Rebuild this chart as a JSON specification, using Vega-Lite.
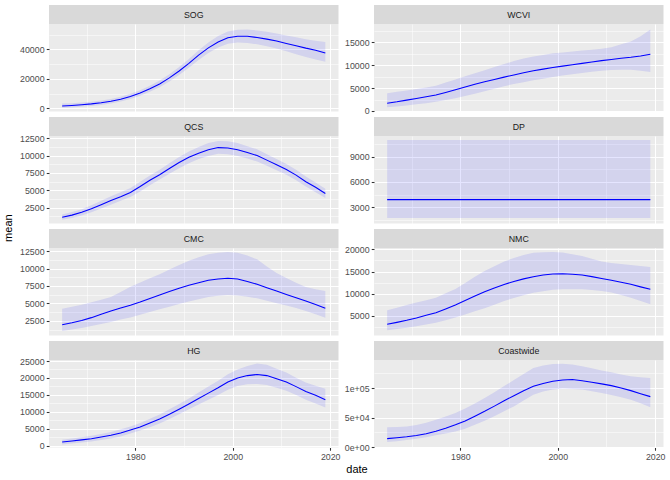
{
  "$schema": "https://vega.github.io/schema/vega-lite/v6.json",
  "background": "white",
  "padding": {"left": 3, "top": 5, "right": 5, "bottom": 3},
  "config": {
    "view": {"stroke": null},
    "font": "Liberation Sans",
    "axis": {"grid": true, "gridColor": "white", "domain": false, "labelColor": "#4D4D4D", "labelFontSize": 8.8, "labelFont": "Liberation Sans", "tickColor": "#333333", "tickSize": 2.75, "tickWidth": 1.07, "labelPadding": 2.2, "labelOverlap": false, "labelFlush": false, "tickCount": 50},
    "axisY": {"minExtent": 30, "maxExtent": 30, "tickCount": 50},
    "axisX": {"tickCount": 50},
    "title": {"font": "Liberation Sans", "fontSize": 11, "fontWeight": "normal", "color": "black"}
  },
  "datasets": {
    "strips": [{"panel": "SOG"}, {"panel": "WCVI"}, {"panel": "QCS"}, {"panel": "DP"}, {"panel": "CMC"}, {"panel": "NMC"}, {"panel": "HG"}, {"panel": "Coastwide"}],
    "series": [
      {"panel":"SOG","date":1965,"mean":1500,"lo":300,"hi":3200},
      {"panel":"SOG","date":1967,"mean":1900,"lo":600,"hi":3500},
      {"panel":"SOG","date":1969,"mean":2400,"lo":1000,"hi":3900},
      {"panel":"SOG","date":1971,"mean":3000,"lo":1600,"hi":4500},
      {"panel":"SOG","date":1973,"mean":3800,"lo":2300,"hi":5300},
      {"panel":"SOG","date":1975,"mean":4800,"lo":3300,"hi":6300},
      {"panel":"SOG","date":1977,"mean":6200,"lo":4600,"hi":7800},
      {"panel":"SOG","date":1979,"mean":8000,"lo":6300,"hi":9800},
      {"panel":"SOG","date":1981,"mean":10400,"lo":8500,"hi":12300},
      {"panel":"SOG","date":1983,"mean":13200,"lo":11200,"hi":15300},
      {"panel":"SOG","date":1985,"mean":16500,"lo":14300,"hi":18800},
      {"panel":"SOG","date":1987,"mean":20600,"lo":18200,"hi":23100},
      {"panel":"SOG","date":1989,"mean":25300,"lo":22600,"hi":28000},
      {"panel":"SOG","date":1991,"mean":30500,"lo":27500,"hi":33500},
      {"panel":"SOG","date":1993,"mean":36000,"lo":32800,"hi":39300},
      {"panel":"SOG","date":1995,"mean":41000,"lo":37500,"hi":44600},
      {"panel":"SOG","date":1997,"mean":45000,"lo":41200,"hi":49000},
      {"panel":"SOG","date":1999,"mean":47800,"lo":43700,"hi":52000},
      {"panel":"SOG","date":2001,"mean":48900,"lo":44600,"hi":53300},
      {"panel":"SOG","date":2003,"mean":48800,"lo":44300,"hi":53400},
      {"panel":"SOG","date":2005,"mean":48000,"lo":43400,"hi":52800},
      {"panel":"SOG","date":2007,"mean":46900,"lo":42000,"hi":51900},
      {"panel":"SOG","date":2009,"mean":45600,"lo":40500,"hi":50700},
      {"panel":"SOG","date":2011,"mean":44000,"lo":38600,"hi":49400},
      {"panel":"SOG","date":2013,"mean":42400,"lo":36700,"hi":48100},
      {"panel":"SOG","date":2015,"mean":40800,"lo":34800,"hi":46800},
      {"panel":"SOG","date":2017,"mean":39400,"lo":33000,"hi":45800},
      {"panel":"SOG","date":2019,"mean":37500,"lo":31500,"hi":45000},

      {"panel":"WCVI","date":1965,"mean":1680,"lo":800,"hi":3860},
      {"panel":"WCVI","date":1967,"mean":2000,"lo":1000,"hi":4200},
      {"panel":"WCVI","date":1969,"mean":2370,"lo":1200,"hi":4500},
      {"panel":"WCVI","date":1971,"mean":2750,"lo":1450,"hi":4800},
      {"panel":"WCVI","date":1973,"mean":3130,"lo":1700,"hi":5150},
      {"panel":"WCVI","date":1975,"mean":3500,"lo":2000,"hi":5500},
      {"panel":"WCVI","date":1977,"mean":4050,"lo":2400,"hi":6200},
      {"panel":"WCVI","date":1979,"mean":4650,"lo":2800,"hi":6900},
      {"panel":"WCVI","date":1981,"mean":5250,"lo":3250,"hi":7600},
      {"panel":"WCVI","date":1983,"mean":5850,"lo":3750,"hi":8250},
      {"panel":"WCVI","date":1985,"mean":6400,"lo":4300,"hi":8900},
      {"panel":"WCVI","date":1987,"mean":6900,"lo":4850,"hi":9600},
      {"panel":"WCVI","date":1989,"mean":7400,"lo":5400,"hi":10250},
      {"panel":"WCVI","date":1991,"mean":7870,"lo":5900,"hi":10900},
      {"panel":"WCVI","date":1993,"mean":8350,"lo":6300,"hi":11450},
      {"panel":"WCVI","date":1995,"mean":8800,"lo":6700,"hi":11900},
      {"panel":"WCVI","date":1997,"mean":9150,"lo":7050,"hi":12250},
      {"panel":"WCVI","date":1999,"mean":9500,"lo":7450,"hi":12600},
      {"panel":"WCVI","date":2001,"mean":9800,"lo":7750,"hi":12800},
      {"panel":"WCVI","date":2003,"mean":10100,"lo":8050,"hi":13000},
      {"panel":"WCVI","date":2005,"mean":10400,"lo":8300,"hi":13200},
      {"panel":"WCVI","date":2007,"mean":10700,"lo":8550,"hi":13400},
      {"panel":"WCVI","date":2009,"mean":11000,"lo":8800,"hi":13600},
      {"panel":"WCVI","date":2011,"mean":11250,"lo":8950,"hi":13900},
      {"panel":"WCVI","date":2013,"mean":11500,"lo":9000,"hi":14600},
      {"panel":"WCVI","date":2015,"mean":11720,"lo":9000,"hi":15200},
      {"panel":"WCVI","date":2017,"mean":12000,"lo":8800,"hi":16300},
      {"panel":"WCVI","date":2019,"mean":12380,"lo":8500,"hi":17800},

      {"panel":"QCS","date":1965,"mean":1150,"lo":800,"hi":1550},
      {"panel":"QCS","date":1967,"mean":1450,"lo":1050,"hi":1900},
      {"panel":"QCS","date":1969,"mean":1850,"lo":1400,"hi":2300},
      {"panel":"QCS","date":1971,"mean":2350,"lo":1850,"hi":2850},
      {"panel":"QCS","date":1973,"mean":2950,"lo":2400,"hi":3500},
      {"panel":"QCS","date":1975,"mean":3550,"lo":2950,"hi":4150},
      {"panel":"QCS","date":1977,"mean":4100,"lo":3500,"hi":4750},
      {"panel":"QCS","date":1979,"mean":4700,"lo":4050,"hi":5350},
      {"panel":"QCS","date":1981,"mean":5550,"lo":4850,"hi":6250},
      {"panel":"QCS","date":1983,"mean":6450,"lo":5750,"hi":7150},
      {"panel":"QCS","date":1985,"mean":7250,"lo":6550,"hi":7950},
      {"panel":"QCS","date":1987,"mean":8150,"lo":7400,"hi":8900},
      {"panel":"QCS","date":1989,"mean":9000,"lo":8200,"hi":9800},
      {"panel":"QCS","date":1991,"mean":9750,"lo":8900,"hi":10600},
      {"panel":"QCS","date":1993,"mean":10350,"lo":9500,"hi":11250},
      {"panel":"QCS","date":1995,"mean":10850,"lo":9950,"hi":11800},
      {"panel":"QCS","date":1997,"mean":11150,"lo":10250,"hi":12100},
      {"panel":"QCS","date":1999,"mean":11100,"lo":10200,"hi":12050},
      {"panel":"QCS","date":2001,"mean":10850,"lo":9950,"hi":11800},
      {"panel":"QCS","date":2003,"mean":10450,"lo":9600,"hi":11350},
      {"panel":"QCS","date":2005,"mean":10000,"lo":9150,"hi":10900},
      {"panel":"QCS","date":2007,"mean":9350,"lo":8550,"hi":10200},
      {"panel":"QCS","date":2009,"mean":8700,"lo":7900,"hi":9500},
      {"panel":"QCS","date":2011,"mean":8000,"lo":7250,"hi":8800},
      {"panel":"QCS","date":2013,"mean":7200,"lo":6450,"hi":7950},
      {"panel":"QCS","date":2015,"mean":6250,"lo":5550,"hi":7000},
      {"panel":"QCS","date":2017,"mean":5450,"lo":4750,"hi":6150},
      {"panel":"QCS","date":2019,"mean":4550,"lo":3900,"hi":5250},

      {"panel":"DP","date":1965,"mean":3900,"lo":1700,"hi":11000},
      {"panel":"DP","date":1967,"mean":3900,"lo":1700,"hi":11000},
      {"panel":"DP","date":1969,"mean":3900,"lo":1700,"hi":11000},
      {"panel":"DP","date":1971,"mean":3900,"lo":1700,"hi":11000},
      {"panel":"DP","date":1973,"mean":3900,"lo":1700,"hi":11000},
      {"panel":"DP","date":1975,"mean":3900,"lo":1700,"hi":11000},
      {"panel":"DP","date":1977,"mean":3900,"lo":1700,"hi":11000},
      {"panel":"DP","date":1979,"mean":3900,"lo":1700,"hi":11000},
      {"panel":"DP","date":1981,"mean":3900,"lo":1700,"hi":11000},
      {"panel":"DP","date":1983,"mean":3900,"lo":1700,"hi":11000},
      {"panel":"DP","date":1985,"mean":3900,"lo":1700,"hi":11000},
      {"panel":"DP","date":1987,"mean":3900,"lo":1700,"hi":11000},
      {"panel":"DP","date":1989,"mean":3900,"lo":1700,"hi":11000},
      {"panel":"DP","date":1991,"mean":3900,"lo":1700,"hi":11000},
      {"panel":"DP","date":1993,"mean":3900,"lo":1700,"hi":11000},
      {"panel":"DP","date":1995,"mean":3900,"lo":1700,"hi":11000},
      {"panel":"DP","date":1997,"mean":3900,"lo":1700,"hi":11000},
      {"panel":"DP","date":1999,"mean":3900,"lo":1700,"hi":11000},
      {"panel":"DP","date":2001,"mean":3900,"lo":1700,"hi":11000},
      {"panel":"DP","date":2003,"mean":3900,"lo":1700,"hi":11000},
      {"panel":"DP","date":2005,"mean":3900,"lo":1700,"hi":11000},
      {"panel":"DP","date":2007,"mean":3900,"lo":1700,"hi":11000},
      {"panel":"DP","date":2009,"mean":3900,"lo":1700,"hi":11000},
      {"panel":"DP","date":2011,"mean":3900,"lo":1700,"hi":11000},
      {"panel":"DP","date":2013,"mean":3900,"lo":1700,"hi":11000},
      {"panel":"DP","date":2015,"mean":3900,"lo":1700,"hi":11000},
      {"panel":"DP","date":2017,"mean":3900,"lo":1700,"hi":11000},
      {"panel":"DP","date":2019,"mean":3900,"lo":1700,"hi":11000},

      {"panel":"CMC","date":1965,"mean":1970,"lo":1070,"hi":4260},
      {"panel":"CMC","date":1967,"mean":2250,"lo":1300,"hi":4550},
      {"panel":"CMC","date":1969,"mean":2580,"lo":1500,"hi":4830},
      {"panel":"CMC","date":1971,"mean":2980,"lo":1780,"hi":5180},
      {"panel":"CMC","date":1973,"mean":3450,"lo":2080,"hi":5550},
      {"panel":"CMC","date":1975,"mean":3930,"lo":2360,"hi":5930},
      {"panel":"CMC","date":1977,"mean":4350,"lo":2700,"hi":6650},
      {"panel":"CMC","date":1979,"mean":4760,"lo":3000,"hi":7400},
      {"panel":"CMC","date":1981,"mean":5220,"lo":3400,"hi":8000},
      {"panel":"CMC","date":1983,"mean":5720,"lo":3780,"hi":8600},
      {"panel":"CMC","date":1985,"mean":6210,"lo":4170,"hi":9170},
      {"panel":"CMC","date":1987,"mean":6700,"lo":4550,"hi":9850},
      {"panel":"CMC","date":1989,"mean":7170,"lo":4930,"hi":10500},
      {"panel":"CMC","date":1991,"mean":7600,"lo":5280,"hi":11100},
      {"panel":"CMC","date":1993,"mean":7970,"lo":5600,"hi":11600},
      {"panel":"CMC","date":1995,"mean":8310,"lo":5930,"hi":12030},
      {"panel":"CMC","date":1997,"mean":8500,"lo":6100,"hi":12250},
      {"panel":"CMC","date":1999,"mean":8600,"lo":6200,"hi":12350},
      {"panel":"CMC","date":2001,"mean":8500,"lo":6150,"hi":12250},
      {"panel":"CMC","date":2003,"mean":8150,"lo":5980,"hi":11850},
      {"panel":"CMC","date":2005,"mean":7740,"lo":5740,"hi":11310},
      {"panel":"CMC","date":2007,"mean":7250,"lo":5400,"hi":10300},
      {"panel":"CMC","date":2009,"mean":6780,"lo":5050,"hi":9350},
      {"panel":"CMC","date":2011,"mean":6300,"lo":4700,"hi":8650},
      {"panel":"CMC","date":2013,"mean":5830,"lo":4350,"hi":7950},
      {"panel":"CMC","date":2015,"mean":5360,"lo":3930,"hi":7360},
      {"panel":"CMC","date":2017,"mean":4850,"lo":3450,"hi":7050},
      {"panel":"CMC","date":2019,"mean":4310,"lo":2970,"hi":6790},

      {"panel":"NMC","date":1965,"mean":3130,"lo":1780,"hi":6280},
      {"panel":"NMC","date":1967,"mean":3570,"lo":2070,"hi":6850},
      {"panel":"NMC","date":1969,"mean":4030,"lo":2380,"hi":7470},
      {"panel":"NMC","date":1971,"mean":4550,"lo":2710,"hi":8030},
      {"panel":"NMC","date":1973,"mean":5150,"lo":3100,"hi":8550},
      {"panel":"NMC","date":1975,"mean":5750,"lo":3500,"hi":9120},
      {"panel":"NMC","date":1977,"mean":6600,"lo":4050,"hi":10100},
      {"panel":"NMC","date":1979,"mean":7480,"lo":4650,"hi":11050},
      {"panel":"NMC","date":1981,"mean":8480,"lo":5350,"hi":12430},
      {"panel":"NMC","date":1983,"mean":9480,"lo":6040,"hi":13800},
      {"panel":"NMC","date":1985,"mean":10470,"lo":6730,"hi":15120},
      {"panel":"NMC","date":1987,"mean":11300,"lo":7550,"hi":16200},
      {"panel":"NMC","date":1989,"mean":12100,"lo":8350,"hi":17250},
      {"panel":"NMC","date":1991,"mean":12760,"lo":9050,"hi":18050},
      {"panel":"NMC","date":1993,"mean":13350,"lo":9650,"hi":18700},
      {"panel":"NMC","date":1995,"mean":13840,"lo":10240,"hi":19240},
      {"panel":"NMC","date":1997,"mean":14200,"lo":10550,"hi":19350},
      {"panel":"NMC","date":1999,"mean":14450,"lo":10900,"hi":19390},
      {"panel":"NMC","date":2001,"mean":14500,"lo":11000,"hi":19300},
      {"panel":"NMC","date":2003,"mean":14400,"lo":11000,"hi":18900},
      {"panel":"NMC","date":2005,"mean":14220,"lo":11000,"hi":18490},
      {"panel":"NMC","date":2007,"mean":13850,"lo":10850,"hi":17900},
      {"panel":"NMC","date":2009,"mean":13450,"lo":10600,"hi":17250},
      {"panel":"NMC","date":2011,"mean":13020,"lo":10300,"hi":16900},
      {"panel":"NMC","date":2013,"mean":12580,"lo":9750,"hi":16700},
      {"panel":"NMC","date":2015,"mean":12130,"lo":9120,"hi":16470},
      {"panel":"NMC","date":2017,"mean":11550,"lo":8350,"hi":16250},
      {"panel":"NMC","date":2019,"mean":11000,"lo":7630,"hi":16020},

      {"panel":"HG","date":1965,"mean":1100,"lo":400,"hi":1800},
      {"panel":"HG","date":1967,"mean":1400,"lo":650,"hi":2150},
      {"panel":"HG","date":1969,"mean":1750,"lo":950,"hi":2550},
      {"panel":"HG","date":1971,"mean":2100,"lo":1250,"hi":2950},
      {"panel":"HG","date":1973,"mean":2600,"lo":1700,"hi":3500},
      {"panel":"HG","date":1975,"mean":3100,"lo":2150,"hi":4050},
      {"panel":"HG","date":1977,"mean":3800,"lo":2750,"hi":4850},
      {"panel":"HG","date":1979,"mean":4650,"lo":3600,"hi":5700},
      {"panel":"HG","date":1981,"mean":5550,"lo":4500,"hi":6700},
      {"panel":"HG","date":1983,"mean":6700,"lo":5500,"hi":7950},
      {"panel":"HG","date":1985,"mean":7890,"lo":6550,"hi":9250},
      {"panel":"HG","date":1987,"mean":9300,"lo":7900,"hi":10800},
      {"panel":"HG","date":1989,"mean":10800,"lo":9300,"hi":12300},
      {"panel":"HG","date":1991,"mean":12350,"lo":10800,"hi":13950},
      {"panel":"HG","date":1993,"mean":13950,"lo":12200,"hi":15700},
      {"panel":"HG","date":1995,"mean":15530,"lo":13600,"hi":17450},
      {"panel":"HG","date":1997,"mean":17100,"lo":15000,"hi":19200},
      {"panel":"HG","date":1999,"mean":18800,"lo":16550,"hi":21100},
      {"panel":"HG","date":2001,"mean":20000,"lo":17650,"hi":22500},
      {"panel":"HG","date":2003,"mean":20700,"lo":18150,"hi":23500},
      {"panel":"HG","date":2005,"mean":21030,"lo":18220,"hi":24300},
      {"panel":"HG","date":2007,"mean":20700,"lo":17900,"hi":23900},
      {"panel":"HG","date":2009,"mean":19800,"lo":17100,"hi":22700},
      {"panel":"HG","date":2011,"mean":18800,"lo":16200,"hi":21600},
      {"panel":"HG","date":2013,"mean":17450,"lo":15000,"hi":20100},
      {"panel":"HG","date":2015,"mean":16040,"lo":13600,"hi":18700},
      {"panel":"HG","date":2017,"mean":14900,"lo":12500,"hi":17700},
      {"panel":"HG","date":2019,"mean":13560,"lo":11260,"hi":16850},

      {"panel":"Coastwide","date":1965,"mean":14650,"lo":9000,"hi":33700},
      {"panel":"Coastwide","date":1967,"mean":16200,"lo":10400,"hi":34400},
      {"panel":"Coastwide","date":1969,"mean":17800,"lo":12200,"hi":35100},
      {"panel":"Coastwide","date":1971,"mean":20000,"lo":14300,"hi":37500},
      {"panel":"Coastwide","date":1973,"mean":23000,"lo":17100,"hi":41500},
      {"panel":"Coastwide","date":1975,"mean":26980,"lo":20200,"hi":46700},
      {"panel":"Coastwide","date":1977,"mean":32000,"lo":23500,"hi":52000},
      {"panel":"Coastwide","date":1979,"mean":38000,"lo":26500,"hi":58000},
      {"panel":"Coastwide","date":1981,"mean":44500,"lo":31500,"hi":65500},
      {"panel":"Coastwide","date":1983,"mean":52500,"lo":38000,"hi":74000},
      {"panel":"Coastwide","date":1985,"mean":60700,"lo":45000,"hi":83100},
      {"panel":"Coastwide","date":1987,"mean":69500,"lo":52500,"hi":93000},
      {"panel":"Coastwide","date":1989,"mean":78600,"lo":61000,"hi":103300},
      {"panel":"Coastwide","date":1991,"mean":87000,"lo":69000,"hi":113500},
      {"panel":"Coastwide","date":1993,"mean":95500,"lo":79000,"hi":123800},
      {"panel":"Coastwide","date":1995,"mean":102800,"lo":88800,"hi":133700},
      {"panel":"Coastwide","date":1997,"mean":107800,"lo":94000,"hi":138000},
      {"panel":"Coastwide","date":1999,"mean":111300,"lo":97500,"hi":140500},
      {"panel":"Coastwide","date":2001,"mean":113500,"lo":99000,"hi":141000},
      {"panel":"Coastwide","date":2003,"mean":114500,"lo":98500,"hi":139500},
      {"panel":"Coastwide","date":2005,"mean":112400,"lo":97300,"hi":136600},
      {"panel":"Coastwide","date":2007,"mean":109800,"lo":94500,"hi":133200},
      {"panel":"Coastwide","date":2009,"mean":107000,"lo":91500,"hi":129600},
      {"panel":"Coastwide","date":2011,"mean":104000,"lo":88200,"hi":126500},
      {"panel":"Coastwide","date":2013,"mean":100200,"lo":84500,"hi":123000},
      {"panel":"Coastwide","date":2015,"mean":95600,"lo":80400,"hi":119700},
      {"panel":"Coastwide","date":2017,"mean":90500,"lo":74500,"hi":118000},
      {"panel":"Coastwide","date":2019,"mean":85500,"lo":67400,"hi":116800}
    ]
  },
  "title": {"text": "mean", "orient": "left", "anchor": "middle", "offset": 5, "dx": 12},
  "hconcat": [
    {
      "title": {"text": "date", "orient": "bottom", "anchor": "middle", "offset": 3, "dx": 15},
      "columns": 2,
      "spacing": {"row": -0.5, "column": 4},
      "concat": [
        {"spacing": -4, "vconcat": [
          {"width": 289.5, "height": 19, "data": {"name": "strips"}, "transform": [{"filter": "datum.panel === 'SOG'"}], "view": {"fill": "#D9D9D9", "stroke": null}, "mark": {"type": "text", "fontSize": 8.8, "color": "#1A1A1A", "font": "Liberation Sans"}, "encoding": {"text": {"field": "panel"}}},
          {"width": 289.5, "height": 87.5, "data": {"name": "series"}, "transform": [{"filter": "datum.panel === 'SOG'"}], "view": {"fill": "#EBEBEB", "stroke": null},
           "layer": [
            {"mark": {"type": "area", "color": "blue", "opacity": 0.1},
             "encoding": {
              "x": {"field": "date", "type": "quantitative", "title": null, "scale": {"domain": [1962.3, 2021.7], "nice": false, "zero": false}, "axis": {"tickCount": 50, "values": [1970, 1980, 1990, 2000, 2010, 2020], "labels": false, "ticks": false, "gridWidth": {"condition": {"test": "datum.value % 20 === 0", "value": 1.07}, "value": 0.53}}},
              "y": {"field": "lo", "type": "quantitative", "title": null, "scale": {"domain": [-2170, 57150], "nice": false, "zero": false}, "axis": {"tickCount": 50, "values": [-2170, 0, 10000, 20000, 30000, 40000, 50000, 57150], "format": "d", "labelExpr": "datum.value % 20000 === 0 ? datum.label : ''", "tickOpacity": {"condition": {"test": "datum.value % 20000 === 0", "value": 1}, "value": 0}, "gridOpacity": {"condition": {"test": "datum.value % 10000 === 0", "value": 1}, "value": 0}, "gridWidth": {"condition": {"test": "datum.value % 20000 === 0", "value": 1.07}, "value": 0.53}}},
              "y2": {"field": "hi"}}},
            {"mark": {"type": "line", "color": "blue", "strokeWidth": 1.07},
             "encoding": {
              "x": {"field": "date", "type": "quantitative", "title": null, "scale": {"domain": [1962.3, 2021.7], "nice": false, "zero": false}},
              "y": {"field": "mean", "type": "quantitative", "title": null, "scale": {"domain": [-2170, 57150], "nice": false, "zero": false}}}}
           ]}
        ]},
        {"spacing": -4, "vconcat": [
          {"width": 289.5, "height": 19, "data": {"name": "strips"}, "transform": [{"filter": "datum.panel === 'WCVI'"}], "view": {"fill": "#D9D9D9", "stroke": null}, "mark": {"type": "text", "fontSize": 8.8, "color": "#1A1A1A", "font": "Liberation Sans"}, "encoding": {"text": {"field": "panel"}}},
          {"width": 289.5, "height": 87.5, "data": {"name": "series"}, "transform": [{"filter": "datum.panel === 'WCVI'"}], "view": {"fill": "#EBEBEB", "stroke": null},
           "layer": [
            {"mark": {"type": "area", "color": "blue", "opacity": 0.1},
             "encoding": {
              "x": {"field": "date", "type": "quantitative", "title": null, "scale": {"domain": [1962.3, 2021.7], "nice": false, "zero": false}, "axis": {"tickCount": 50, "values": [1970, 1980, 1990, 2000, 2010, 2020], "labels": false, "ticks": false, "gridWidth": {"condition": {"test": "datum.value % 20 === 0", "value": 1.07}, "value": 0.53}}},
              "y": {"field": "lo", "type": "quantitative", "title": null, "scale": {"domain": [-110, 19000], "nice": false, "zero": false}, "axis": {"tickCount": 50, "values": [-110, 0, 2500, 5000, 7500, 10000, 12500, 15000, 17500, 19000], "format": "d", "labelExpr": "datum.value % 5000 === 0 ? datum.label : ''", "tickOpacity": {"condition": {"test": "datum.value % 5000 === 0", "value": 1}, "value": 0}, "gridOpacity": {"condition": {"test": "datum.value % 2500 === 0", "value": 1}, "value": 0}, "gridWidth": {"condition": {"test": "datum.value % 5000 === 0", "value": 1.07}, "value": 0.53}}},
              "y2": {"field": "hi"}}},
            {"mark": {"type": "line", "color": "blue", "strokeWidth": 1.07},
             "encoding": {
              "x": {"field": "date", "type": "quantitative", "title": null, "scale": {"domain": [1962.3, 2021.7], "nice": false, "zero": false}},
              "y": {"field": "mean", "type": "quantitative", "title": null, "scale": {"domain": [-110, 19000], "nice": false, "zero": false}}}}
           ]}
        ]},
        {"spacing": -4, "vconcat": [
          {"width": 289.5, "height": 19, "data": {"name": "strips"}, "transform": [{"filter": "datum.panel === 'QCS'"}], "view": {"fill": "#D9D9D9", "stroke": null}, "mark": {"type": "text", "fontSize": 8.8, "color": "#1A1A1A", "font": "Liberation Sans"}, "encoding": {"text": {"field": "panel"}}},
          {"width": 289.5, "height": 87.5, "data": {"name": "series"}, "transform": [{"filter": "datum.panel === 'QCS'"}], "view": {"fill": "#EBEBEB", "stroke": null},
           "layer": [
            {"mark": {"type": "area", "color": "blue", "opacity": 0.1},
             "encoding": {
              "x": {"field": "date", "type": "quantitative", "title": null, "scale": {"domain": [1962.3, 2021.7], "nice": false, "zero": false}, "axis": {"tickCount": 50, "values": [1970, 1980, 1990, 2000, 2010, 2020], "labels": false, "ticks": false, "gridWidth": {"condition": {"test": "datum.value % 20 === 0", "value": 1.07}, "value": 0.53}}},
              "y": {"field": "lo", "type": "quantitative", "title": null, "scale": {"domain": [244, 12816], "nice": false, "zero": false}, "axis": {"tickCount": 50, "values": [244, 1250, 2500, 3750, 5000, 6250, 7500, 8750, 10000, 11250, 12500, 12816], "format": "d", "labelExpr": "datum.value % 2500 === 0 ? datum.label : ''", "tickOpacity": {"condition": {"test": "datum.value % 2500 === 0", "value": 1}, "value": 0}, "gridOpacity": {"condition": {"test": "datum.value % 1250 === 0", "value": 1}, "value": 0}, "gridWidth": {"condition": {"test": "datum.value % 2500 === 0", "value": 1.07}, "value": 0.53}}},
              "y2": {"field": "hi"}}},
            {"mark": {"type": "line", "color": "blue", "strokeWidth": 1.07},
             "encoding": {
              "x": {"field": "date", "type": "quantitative", "title": null, "scale": {"domain": [1962.3, 2021.7], "nice": false, "zero": false}},
              "y": {"field": "mean", "type": "quantitative", "title": null, "scale": {"domain": [244, 12816], "nice": false, "zero": false}}}}
           ]}
        ]},
        {"spacing": -4, "vconcat": [
          {"width": 289.5, "height": 19, "data": {"name": "strips"}, "transform": [{"filter": "datum.panel === 'DP'"}], "view": {"fill": "#D9D9D9", "stroke": null}, "mark": {"type": "text", "fontSize": 8.8, "color": "#1A1A1A", "font": "Liberation Sans"}, "encoding": {"text": {"field": "panel"}}},
          {"width": 289.5, "height": 87.5, "data": {"name": "series"}, "transform": [{"filter": "datum.panel === 'DP'"}], "view": {"fill": "#EBEBEB", "stroke": null},
           "layer": [
            {"mark": {"type": "area", "color": "blue", "opacity": 0.1},
             "encoding": {
              "x": {"field": "date", "type": "quantitative", "title": null, "scale": {"domain": [1962.3, 2021.7], "nice": false, "zero": false}, "axis": {"tickCount": 50, "values": [1970, 1980, 1990, 2000, 2010, 2020], "labels": false, "ticks": false, "gridWidth": {"condition": {"test": "datum.value % 20 === 0", "value": 1.07}, "value": 0.53}}},
              "y": {"field": "lo", "type": "quantitative", "title": null, "scale": {"domain": [1060, 11475], "nice": false, "zero": false}, "axis": {"tickCount": 50, "values": [1060, 1500, 3000, 4500, 6000, 7500, 9000, 10500, 11475], "format": "d", "labelExpr": "datum.value % 3000 === 0 ? datum.label : ''", "tickOpacity": {"condition": {"test": "datum.value % 3000 === 0", "value": 1}, "value": 0}, "gridOpacity": {"condition": {"test": "datum.value % 1500 === 0", "value": 1}, "value": 0}, "gridWidth": {"condition": {"test": "datum.value % 3000 === 0", "value": 1.07}, "value": 0.53}}},
              "y2": {"field": "hi"}}},
            {"mark": {"type": "line", "color": "blue", "strokeWidth": 1.07},
             "encoding": {
              "x": {"field": "date", "type": "quantitative", "title": null, "scale": {"domain": [1962.3, 2021.7], "nice": false, "zero": false}},
              "y": {"field": "mean", "type": "quantitative", "title": null, "scale": {"domain": [1060, 11475], "nice": false, "zero": false}}}}
           ]}
        ]},
        {"spacing": -4, "vconcat": [
          {"width": 289.5, "height": 19, "data": {"name": "strips"}, "transform": [{"filter": "datum.panel === 'CMC'"}], "view": {"fill": "#D9D9D9", "stroke": null}, "mark": {"type": "text", "fontSize": 8.8, "color": "#1A1A1A", "font": "Liberation Sans"}, "encoding": {"text": {"field": "panel"}}},
          {"width": 289.5, "height": 87.5, "data": {"name": "series"}, "transform": [{"filter": "datum.panel === 'CMC'"}], "view": {"fill": "#EBEBEB", "stroke": null},
           "layer": [
            {"mark": {"type": "area", "color": "blue", "opacity": 0.1},
             "encoding": {
              "x": {"field": "date", "type": "quantitative", "title": null, "scale": {"domain": [1962.3, 2021.7], "nice": false, "zero": false}, "axis": {"tickCount": 50, "values": [1970, 1980, 1990, 2000, 2010, 2020], "labels": false, "ticks": false, "gridWidth": {"condition": {"test": "datum.value % 20 === 0", "value": 1.07}, "value": 0.53}}},
              "y": {"field": "lo", "type": "quantitative", "title": null, "scale": {"domain": [428, 12929], "nice": false, "zero": false}, "axis": {"tickCount": 50, "values": [428, 1250, 2500, 3750, 5000, 6250, 7500, 8750, 10000, 11250, 12500, 12929], "format": "d", "labelExpr": "datum.value % 2500 === 0 ? datum.label : ''", "tickOpacity": {"condition": {"test": "datum.value % 2500 === 0", "value": 1}, "value": 0}, "gridOpacity": {"condition": {"test": "datum.value % 1250 === 0", "value": 1}, "value": 0}, "gridWidth": {"condition": {"test": "datum.value % 2500 === 0", "value": 1.07}, "value": 0.53}}},
              "y2": {"field": "hi"}}},
            {"mark": {"type": "line", "color": "blue", "strokeWidth": 1.07},
             "encoding": {
              "x": {"field": "date", "type": "quantitative", "title": null, "scale": {"domain": [1962.3, 2021.7], "nice": false, "zero": false}},
              "y": {"field": "mean", "type": "quantitative", "title": null, "scale": {"domain": [428, 12929], "nice": false, "zero": false}}}}
           ]}
        ]},
        {"spacing": -4, "vconcat": [
          {"width": 289.5, "height": 19, "data": {"name": "strips"}, "transform": [{"filter": "datum.panel === 'NMC'"}], "view": {"fill": "#D9D9D9", "stroke": null}, "mark": {"type": "text", "fontSize": 8.8, "color": "#1A1A1A", "font": "Liberation Sans"}, "encoding": {"text": {"field": "panel"}}},
          {"width": 289.5, "height": 87.5, "data": {"name": "series"}, "transform": [{"filter": "datum.panel === 'NMC'"}], "view": {"fill": "#EBEBEB", "stroke": null},
           "layer": [
            {"mark": {"type": "area", "color": "blue", "opacity": 0.1},
             "encoding": {
              "x": {"field": "date", "type": "quantitative", "title": null, "scale": {"domain": [1962.3, 2021.7], "nice": false, "zero": false}, "axis": {"tickCount": 50, "values": [1970, 1980, 1990, 2000, 2010, 2020], "labels": false, "ticks": false, "gridWidth": {"condition": {"test": "datum.value % 20 === 0", "value": 1.07}, "value": 0.53}}},
              "y": {"field": "lo", "type": "quantitative", "title": null, "scale": {"domain": [614, 20292], "nice": false, "zero": false}, "axis": {"tickCount": 50, "values": [614, 2500, 5000, 7500, 10000, 12500, 15000, 17500, 20000, 20292], "format": "d", "labelExpr": "datum.value % 5000 === 0 ? datum.label : ''", "tickOpacity": {"condition": {"test": "datum.value % 5000 === 0", "value": 1}, "value": 0}, "gridOpacity": {"condition": {"test": "datum.value % 2500 === 0", "value": 1}, "value": 0}, "gridWidth": {"condition": {"test": "datum.value % 5000 === 0", "value": 1.07}, "value": 0.53}}},
              "y2": {"field": "hi"}}},
            {"mark": {"type": "line", "color": "blue", "strokeWidth": 1.07},
             "encoding": {
              "x": {"field": "date", "type": "quantitative", "title": null, "scale": {"domain": [1962.3, 2021.7], "nice": false, "zero": false}},
              "y": {"field": "mean", "type": "quantitative", "title": null, "scale": {"domain": [614, 20292], "nice": false, "zero": false}}}}
           ]}
        ]},
        {"spacing": -4, "vconcat": [
          {"width": 289.5, "height": 19, "data": {"name": "strips"}, "transform": [{"filter": "datum.panel === 'HG'"}], "view": {"fill": "#D9D9D9", "stroke": null}, "mark": {"type": "text", "fontSize": 8.8, "color": "#1A1A1A", "font": "Liberation Sans"}, "encoding": {"text": {"field": "panel"}}},
          {"width": 289.5, "height": 87.5, "data": {"name": "series"}, "transform": [{"filter": "datum.panel === 'HG'"}], "view": {"fill": "#EBEBEB", "stroke": null},
           "layer": [
            {"mark": {"type": "area", "color": "blue", "opacity": 0.1},
             "encoding": {
              "x": {"field": "date", "type": "quantitative", "title": null, "scale": {"domain": [1962.3, 2021.7], "nice": false, "zero": false}, "axis": {"tickCount": 50, "values": [1970, 1980, 1990, 2000, 2010, 2020], "format": "d", "labelExpr": "datum.value % 20 === 0 ? datum.label : ''", "tickOpacity": {"condition": {"test": "datum.value % 20 === 0", "value": 1}, "value": 0}, "gridWidth": {"condition": {"test": "datum.value % 20 === 0", "value": 1.07}, "value": 0.53}}},
              "y": {"field": "lo", "type": "quantitative", "title": null, "scale": {"domain": [-500, 25300], "nice": false, "zero": false}, "axis": {"tickCount": 50, "values": [-500, 0, 2500, 5000, 7500, 10000, 12500, 15000, 17500, 20000, 22500, 25000, 25300], "format": "d", "labelExpr": "datum.value % 5000 === 0 ? datum.label : ''", "tickOpacity": {"condition": {"test": "datum.value % 5000 === 0", "value": 1}, "value": 0}, "gridOpacity": {"condition": {"test": "datum.value % 2500 === 0", "value": 1}, "value": 0}, "gridWidth": {"condition": {"test": "datum.value % 5000 === 0", "value": 1.07}, "value": 0.53}}},
              "y2": {"field": "hi"}}},
            {"mark": {"type": "line", "color": "blue", "strokeWidth": 1.07},
             "encoding": {
              "x": {"field": "date", "type": "quantitative", "title": null, "scale": {"domain": [1962.3, 2021.7], "nice": false, "zero": false}},
              "y": {"field": "mean", "type": "quantitative", "title": null, "scale": {"domain": [-500, 25300], "nice": false, "zero": false}}}}
           ]}
        ]},
        {"spacing": -4, "vconcat": [
          {"width": 289.5, "height": 19, "data": {"name": "strips"}, "transform": [{"filter": "datum.panel === 'Coastwide'"}], "view": {"fill": "#D9D9D9", "stroke": null}, "mark": {"type": "text", "fontSize": 8.8, "color": "#1A1A1A", "font": "Liberation Sans"}, "encoding": {"text": {"field": "panel"}}},
          {"width": 289.5, "height": 87.5, "data": {"name": "series"}, "transform": [{"filter": "datum.panel === 'Coastwide'"}], "view": {"fill": "#EBEBEB", "stroke": null},
           "layer": [
            {"mark": {"type": "area", "color": "blue", "opacity": 0.1},
             "encoding": {
              "x": {"field": "date", "type": "quantitative", "title": null, "scale": {"domain": [1962.3, 2021.7], "nice": false, "zero": false}, "axis": {"tickCount": 50, "values": [1970, 1980, 1990, 2000, 2010, 2020], "format": "d", "labelExpr": "datum.value % 20 === 0 ? datum.label : ''", "tickOpacity": {"condition": {"test": "datum.value % 20 === 0", "value": 1}, "value": 0}, "gridWidth": {"condition": {"test": "datum.value % 20 === 0", "value": 1.07}, "value": 0.53}}},
              "y": {"field": "lo", "type": "quantitative", "title": null, "scale": {"domain": [-300, 147250], "nice": false, "zero": false}, "axis": {"tickCount": 50, "values": [-300, 0, 25000, 50000, 75000, 100000, 125000, 147250], "labelExpr": "datum.value === 0 ? '0e+00' : datum.value === 50000 ? '5e+04' : datum.value === 100000 ? '1e+05' : ''", "tickOpacity": {"condition": {"test": "datum.value % 50000 === 0", "value": 1}, "value": 0}, "gridOpacity": {"condition": {"test": "datum.value % 25000 === 0", "value": 1}, "value": 0}, "gridWidth": {"condition": {"test": "datum.value % 50000 === 0", "value": 1.07}, "value": 0.53}}},
              "y2": {"field": "hi"}}},
            {"mark": {"type": "line", "color": "blue", "strokeWidth": 1.07},
             "encoding": {
              "x": {"field": "date", "type": "quantitative", "title": null, "scale": {"domain": [1962.3, 2021.7], "nice": false, "zero": false}},
              "y": {"field": "mean", "type": "quantitative", "title": null, "scale": {"domain": [-300, 147250], "nice": false, "zero": false}}}}
           ]}
        ]}
      ]
    }
  ]
}
